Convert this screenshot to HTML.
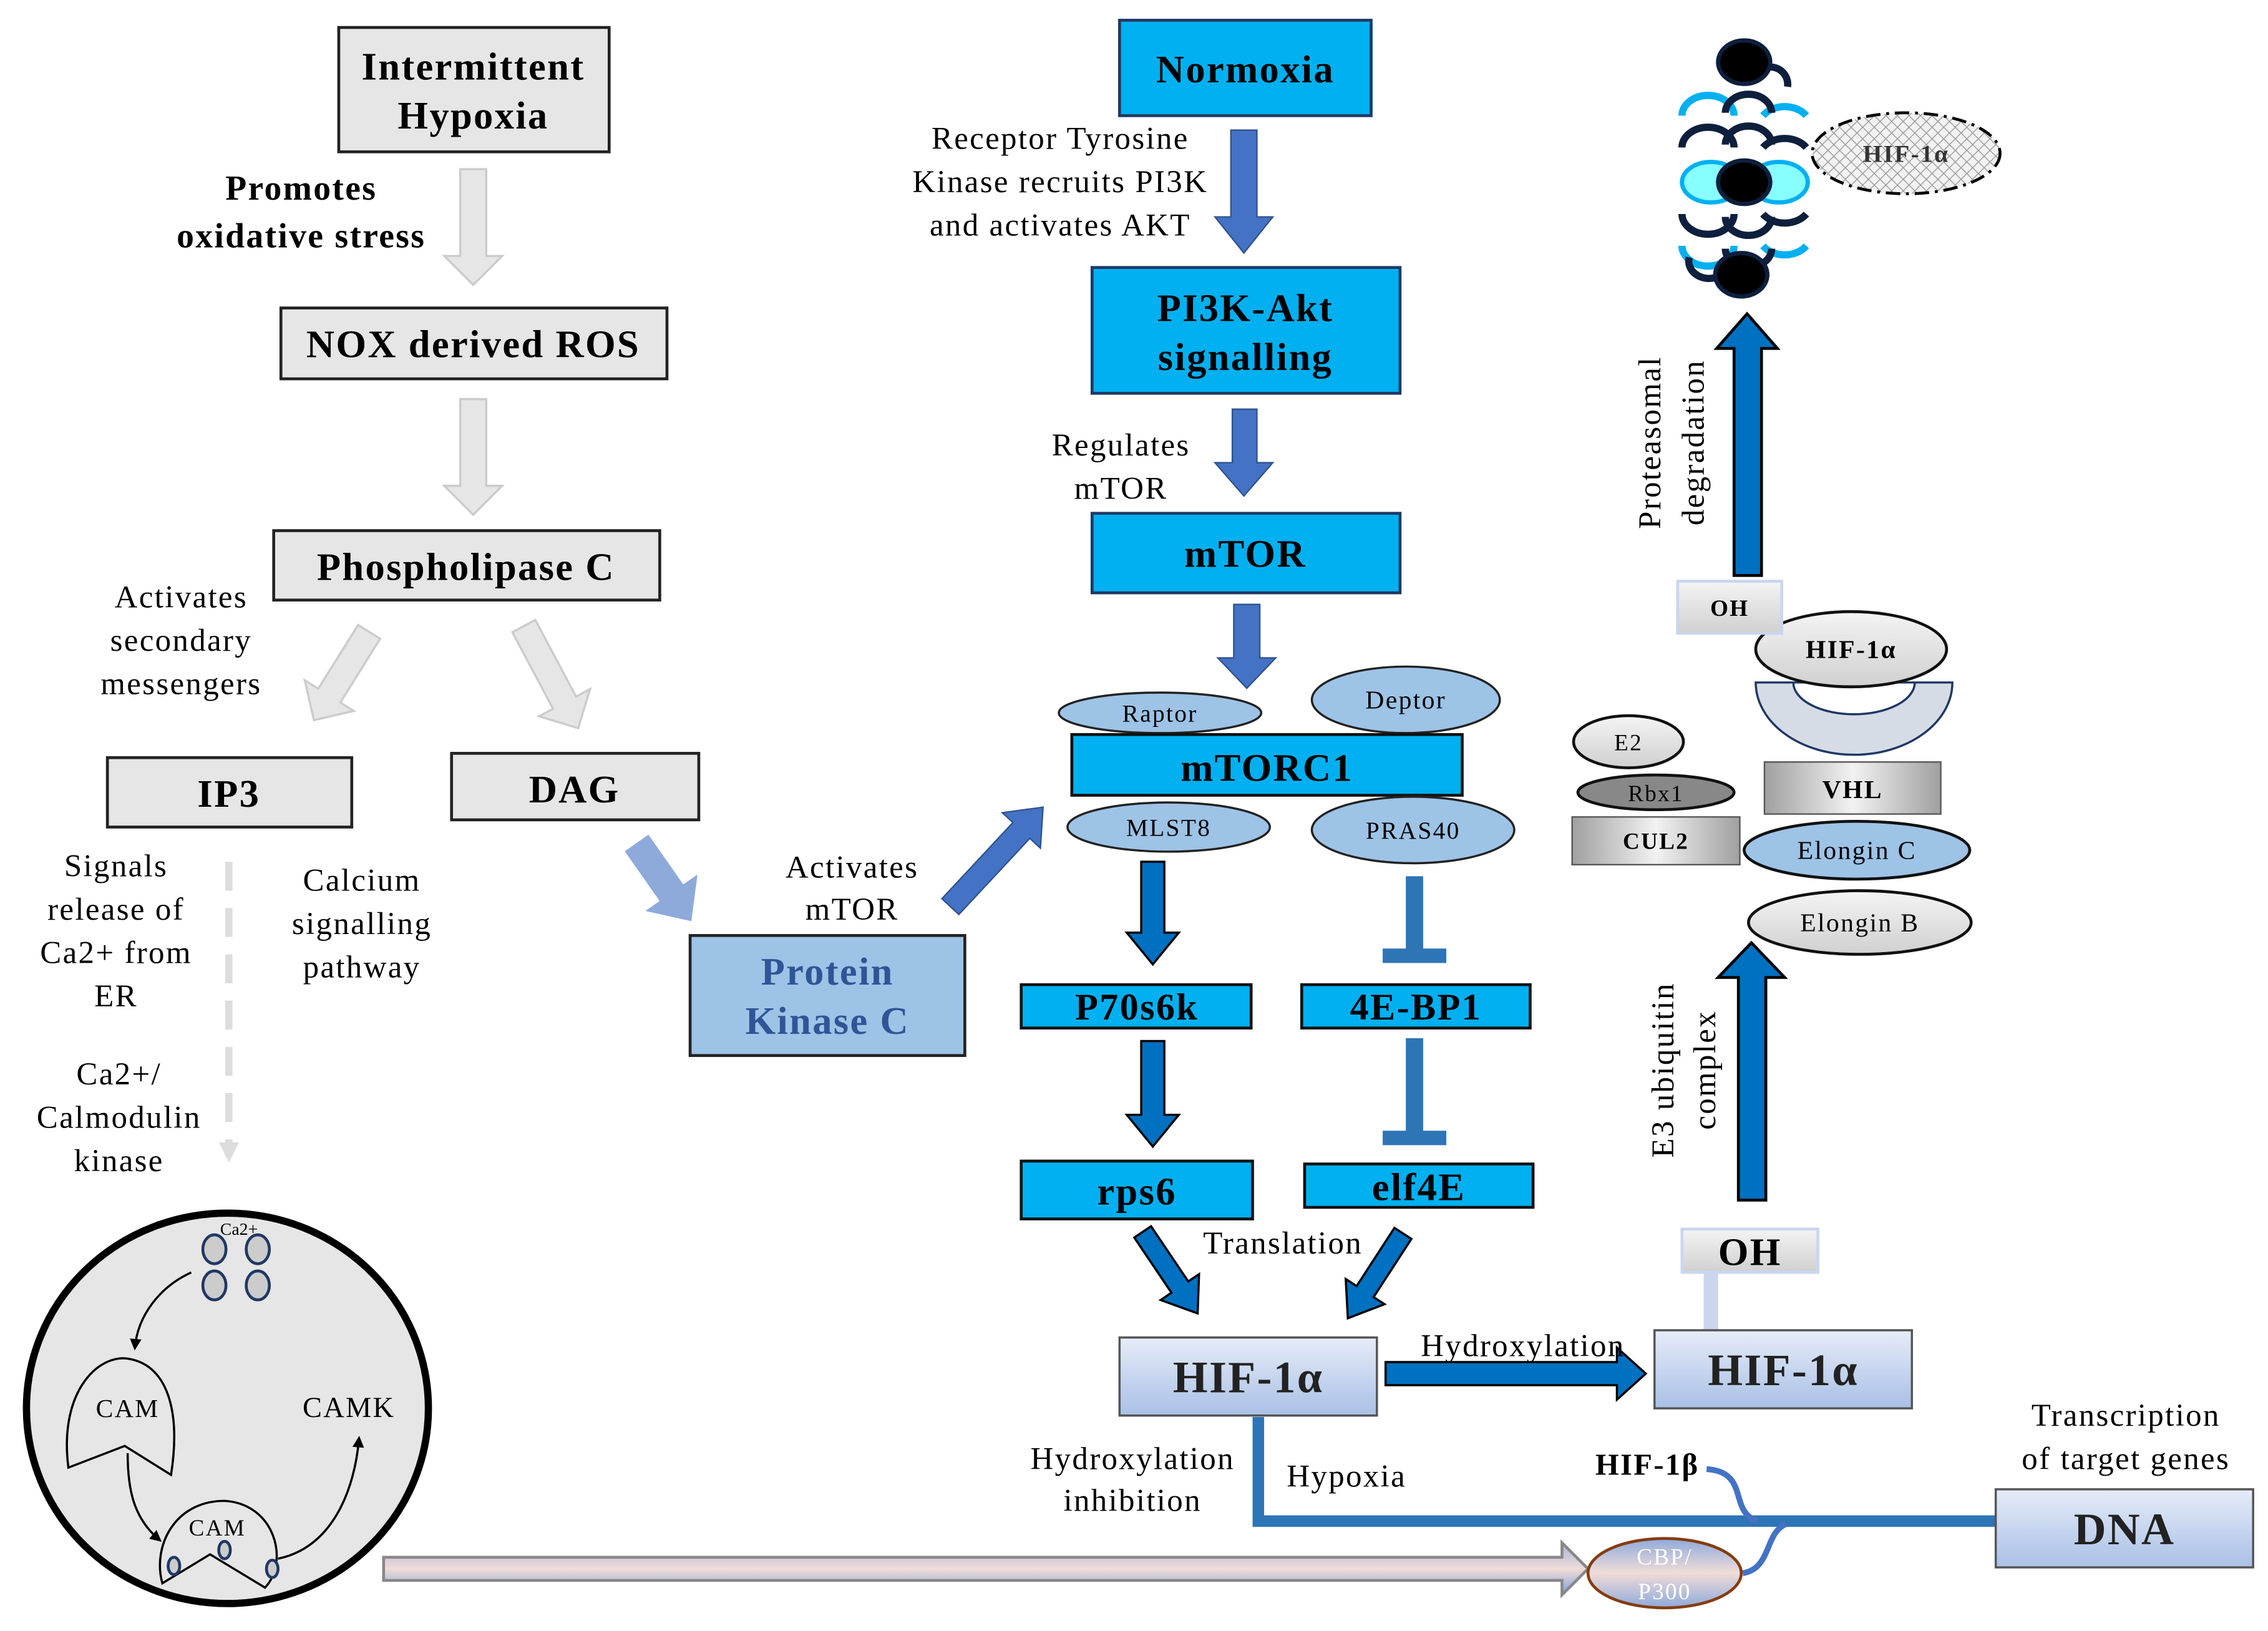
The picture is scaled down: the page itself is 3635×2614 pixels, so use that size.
<!DOCTYPE html>
<html><head><meta charset="utf-8"><style>
html,body{margin:0;padding:0;background:#fff;}
svg{display:block;}
text{font-family:"Liberation Serif",serif;letter-spacing:1px;}
.b{font-weight:bold;}
</style></head><body>
<svg width="3635" height="2614" viewBox="0 0 1568 1128" xmlns="http://www.w3.org/2000/svg">
<defs>
<linearGradient id="hg" x1="0" y1="0" x2="0" y2="1"><stop offset="0" stop-color="#e6ecf8"/><stop offset="1" stop-color="#a9c0e6"/></linearGradient>
<linearGradient id="gg" x1="0" y1="0" x2="0" y2="1"><stop offset="0" stop-color="#f4f4f4"/><stop offset="1" stop-color="#d0d0d0"/></linearGradient>
<linearGradient id="gh" x1="0" y1="0" x2="1" y2="0"><stop offset="0" stop-color="#a0a0a0"/><stop offset="0.5" stop-color="#f2f2f2"/><stop offset="1" stop-color="#a0a0a0"/></linearGradient>
<linearGradient id="ar" x1="0" y1="0" x2="0" y2="1"><stop offset="0" stop-color="#a8b4d8"/><stop offset="0.5" stop-color="#f0dcd8"/><stop offset="1" stop-color="#7fa0dc"/></linearGradient>
<linearGradient id="cb" x1="0" y1="0" x2="0" y2="1"><stop offset="0" stop-color="#8eaadb"/><stop offset="0.5" stop-color="#f0dcd8"/><stop offset="1" stop-color="#8eaadb"/></linearGradient>
<pattern id="hatch" width="8" height="8" patternUnits="userSpaceOnUse"><rect width="8" height="8" fill="#f2f2f2"/><path d="M0 8 L8 0 M0 0 L8 8" stroke="#999" stroke-width="0.6"/></pattern>
<marker id="mk" markerWidth="8" markerHeight="8" refX="6" refY="4" orient="auto" markerUnits="userSpaceOnUse"><path d="M0 0 L8 4 L0 8 Z" fill="#000"/></marker>
<marker id="mg" markerWidth="14" markerHeight="14" refX="10" refY="7" orient="auto" markerUnits="userSpaceOnUse"><path d="M0 0 L14 7 L0 14 Z" fill="#ddd"/></marker>
</defs>

<!-- Left column -->
<rect x="234" y="19" width="187" height="86" fill="#e6e6e6" stroke="#222" stroke-width="2"/>
<text x="327" y="55" font-size="27" class="b" text-anchor="middle">Intermittent</text>
<text x="327" y="89" font-size="27" class="b" text-anchor="middle">Hypoxia</text>
<text x="208" y="138" font-size="24" class="b" text-anchor="middle">Promotes</text>
<text x="208" y="171" font-size="24" class="b" text-anchor="middle">oxidative stress</text>
<path d="M318 117 H336 V177 H347 L327 197 L307 177 H318 Z" fill="#e6e6e6" stroke="#ccc" stroke-width="1.5"/>
<rect x="194" y="213" width="267" height="49" fill="#e6e6e6" stroke="#222" stroke-width="2"/>
<text x="327" y="247" font-size="27" class="b" text-anchor="middle">NOX derived ROS</text>
<path d="M318 276 H336 V336 H347 L327 356 L307 336 H318 Z" fill="#e6e6e6" stroke="#ccc" stroke-width="1.5"/>
<rect x="189" y="367" width="267" height="48" fill="#e6e6e6" stroke="#222" stroke-width="2"/>
<text x="322" y="401" font-size="27" class="b" text-anchor="middle">Phospholipase C</text>
<text x="125" y="420" font-size="22" text-anchor="middle">Activates</text>
<text x="125" y="450" font-size="22" text-anchor="middle">secondary</text>
<text x="125" y="480" font-size="22" text-anchor="middle">messengers</text>
<g transform="translate(255,437) rotate(122)"><path d="M0 -9 H52 V-20 L72 0 L52 20 V9 H0 Z" fill="#e6e6e6" stroke="#ccc" stroke-width="1.5"/></g>
<g transform="translate(362,433) rotate(62)"><path d="M0 -9 H60 V-20 L80 0 L60 20 V9 H0 Z" fill="#e6e6e6" stroke="#ccc" stroke-width="1.5"/></g>
<rect x="74" y="524" width="169" height="48" fill="#e6e6e6" stroke="#222" stroke-width="2"/>
<text x="158" y="558" font-size="27" class="b" text-anchor="middle">IP3</text>
<rect x="312" y="521" width="171" height="46" fill="#e6e6e6" stroke="#222" stroke-width="2"/>
<text x="397" y="555" font-size="27" class="b" text-anchor="middle">DAG</text>
<line x1="158" y1="596" x2="158" y2="800" stroke="#ddd" stroke-width="5" stroke-dasharray="20,12" marker-end="url(#mg)"/>
<text x="80" y="606" font-size="22" text-anchor="middle">Signals</text>
<text x="80" y="636" font-size="22" text-anchor="middle">release of</text>
<text x="80" y="666" font-size="22" text-anchor="middle">Ca2+ from</text>
<text x="80" y="696" font-size="22" text-anchor="middle">ER</text>
<text x="250" y="616" font-size="22" text-anchor="middle">Calcium</text>
<text x="250" y="646" font-size="22" text-anchor="middle">signalling</text>
<text x="250" y="676" font-size="22" text-anchor="middle">pathway</text>
<text x="82" y="750" font-size="22" text-anchor="middle">Ca2+/</text>
<text x="82" y="780" font-size="22" text-anchor="middle">Calmodulin</text>
<text x="82" y="810" font-size="22" text-anchor="middle">kinase</text>
<g transform="translate(440,583) rotate(55)"><path d="M0 -10 H42 V-22 L66 0 L42 22 V10 H0 Z" fill="#8eaadb"/></g>

<!-- Cell -->
<ellipse cx="157" cy="974" rx="139" ry="135" fill="#e6e6e6" stroke="#000" stroke-width="5"/>
<text x="165" y="854" font-size="12" text-anchor="middle" style="letter-spacing:0">Ca2+</text>
<g fill="#ccc" stroke="#1f3864" stroke-width="2">
<ellipse cx="148" cy="864" rx="8" ry="10"/><ellipse cx="178" cy="864" rx="8" ry="10"/>
<ellipse cx="148" cy="889" rx="8" ry="10"/><ellipse cx="178" cy="889" rx="8" ry="10"/>
</g>
<path d="M132 880 C110 890 95 910 93 932" fill="none" stroke="#000" stroke-width="1.5" marker-end="url(#mk)"/>
<path d="M86 1000 L47 1015 C40 960 70 935 90 940 C115 945 125 975 118 1020 Z" fill="#e6e6e6" stroke="#000" stroke-width="1.5"/>
<text x="88" y="980" font-size="18" text-anchor="middle">CAM</text>
<path d="M88 1005 C88 1030 92 1050 110 1065" fill="none" stroke="#000" stroke-width="1.5" marker-end="url(#mk)"/>
<path d="M112 1095 L145 1075 L183 1098 C200 1080 190 1040 155 1038 C120 1038 105 1070 112 1095 Z" fill="#e6e6e6" stroke="#000" stroke-width="1.5"/>
<text x="150" y="1062" font-size="16" text-anchor="middle">CAM</text>
<g fill="#ccc" stroke="#1f3864" stroke-width="2"><ellipse cx="120" cy="1083" rx="4" ry="6"/><ellipse cx="155" cy="1072" rx="4" ry="6"/><ellipse cx="188" cy="1085" rx="4" ry="6"/></g>
<path d="M192 1078 C230 1070 245 1030 248 995" fill="none" stroke="#000" stroke-width="1.5" marker-end="url(#mk)"/>
<text x="241" y="980" font-size="20" text-anchor="middle">CAMK</text>

<!-- Long gray arrow -->
<path d="M265 1077 H1080 V1067 L1098 1085 L1080 1103 V1093 H265 Z" fill="url(#ar)" stroke="#888" stroke-width="2"/>

<!-- Middle column -->
<rect x="774" y="14" width="174" height="66" fill="#00b0f0" stroke="#1f3864" stroke-width="2"/>
<text x="861" y="57" font-size="27" class="b" text-anchor="middle">Normoxia</text>
<text x="733" y="103" font-size="22" text-anchor="middle">Receptor Tyrosine</text>
<text x="733" y="133" font-size="22" text-anchor="middle">Kinase recruits PI3K</text>
<text x="733" y="163" font-size="22" text-anchor="middle">and activates AKT</text>
<path d="M851 90 H869 V150 H880 L860 175 L840 150 H851 Z" fill="#4472c4" stroke="#2f528f"/>
<rect x="755" y="185" width="213" height="87" fill="#00b0f0" stroke="#1f3864" stroke-width="2"/>
<text x="861" y="222" font-size="27" class="b" text-anchor="middle">PI3K-Akt</text>
<text x="861" y="256" font-size="27" class="b" text-anchor="middle">signalling</text>
<text x="775" y="315" font-size="22" text-anchor="middle">Regulates</text>
<text x="775" y="345" font-size="22" text-anchor="middle">mTOR</text>
<path d="M852 283 H869 V320 H880 L860 343 L840 320 H852 Z" fill="#4472c4" stroke="#2f528f"/>
<rect x="755" y="355" width="213" height="55" fill="#00b0f0" stroke="#1f3864" stroke-width="2"/>
<text x="861" y="392" font-size="27" class="b" text-anchor="middle">mTOR</text>
<path d="M853 418 H871 V455 H882 L862 476 L842 455 H853 Z" fill="#4472c4" stroke="#2f528f"/>
<text x="589" y="607" font-size="22" text-anchor="middle">Activates</text>
<text x="589" y="636" font-size="22" text-anchor="middle">mTOR</text>
<g transform="translate(657,627) rotate(-47)"><path d="M0 -8 H72 V-18 L94 0 L72 18 V8 H0 Z" fill="#4472c4" stroke="#2f528f"/></g>
<rect x="477" y="647" width="190" height="83" fill="#9dc3e6" stroke="#222" stroke-width="2"/>
<text x="572" y="681" font-size="27" class="b" fill="#2f5597" text-anchor="middle">Protein</text>
<text x="572" y="715" font-size="27" class="b" fill="#2f5597" text-anchor="middle">Kinase C</text>

<ellipse cx="802" cy="493" rx="70" ry="14" fill="#9dc3e6" stroke="#222" stroke-width="1.5"/>
<text x="802" y="499" font-size="17" text-anchor="middle">Raptor</text>
<ellipse cx="972" cy="484" rx="65" ry="23" fill="#9dc3e6" stroke="#222" stroke-width="1.5"/>
<text x="972" y="490" font-size="18" text-anchor="middle">Deptor</text>
<rect x="741" y="508" width="270" height="42" fill="#00b0f0" stroke="#111" stroke-width="2"/>
<text x="876" y="540" font-size="27" class="b" text-anchor="middle">mTORC1</text>
<ellipse cx="808" cy="572" rx="70" ry="17" fill="#9dc3e6" stroke="#222" stroke-width="1.5"/>
<text x="808" y="578" font-size="17" text-anchor="middle">MLST8</text>
<ellipse cx="977" cy="574" rx="70" ry="23" fill="#9dc3e6" stroke="#222" stroke-width="1.5"/>
<text x="977" y="580" font-size="17" text-anchor="middle">PRAS40</text>

<path d="M789 596 H805 V645 H815 L797 667 L779 645 H789 Z" fill="#0070c0" stroke="#000" stroke-width="1.5"/>
<rect x="972" y="606" width="12" height="52" fill="#2e75b6"/>
<rect x="956" y="656" width="44" height="10" fill="#2e75b6"/>
<rect x="706" y="681" width="159" height="30" fill="#00b0f0" stroke="#111" stroke-width="2"/>
<text x="786" y="705" font-size="26" class="b" text-anchor="middle">P70s6k</text>
<rect x="900" y="681" width="158" height="30" fill="#00b0f0" stroke="#111" stroke-width="2"/>
<text x="979" y="705" font-size="26" class="b" text-anchor="middle">4E-BP1</text>
<path d="M789 720 H805 V771 H815 L797 793 L779 771 H789 Z" fill="#0070c0" stroke="#000" stroke-width="1.5"/>
<rect x="972" y="718" width="12" height="66" fill="#2e75b6"/>
<rect x="956" y="782" width="44" height="10" fill="#2e75b6"/>
<rect x="706" y="803" width="160" height="40" fill="#00b0f0" stroke="#111" stroke-width="2"/>
<text x="786" y="833" font-size="27" class="b" text-anchor="middle">rps6</text>
<rect x="902" y="805" width="158" height="30" fill="#00b0f0" stroke="#111" stroke-width="2"/>
<text x="981" y="830" font-size="27" class="b" text-anchor="middle">elf4E</text>
<text x="887" y="867" font-size="22" text-anchor="middle">Translation</text>
<g transform="translate(790,852) rotate(56)"><path d="M0 -7 H46 V-16 L68 0 L46 16 V7 H0 Z" fill="#0070c0" stroke="#000" stroke-width="1.5"/></g>
<g transform="translate(970,853) rotate(123)"><path d="M0 -7 H48 V-16 L70 0 L48 16 V7 H0 Z" fill="#0070c0" stroke="#000" stroke-width="1.5"/></g>

<!-- DNA line -->
<path d="M870 980 V1052 H1385" fill="none" stroke="#2e75b6" stroke-width="8"/>
<rect x="774" y="925" width="178" height="54" fill="url(#hg)" stroke="#555" stroke-width="1.5"/>
<text x="863" y="963" font-size="31" class="b" fill="#222" text-anchor="middle">HIF-1α</text>
<path d="M958 942 H1118 V932 L1138 950 L1118 968 V958 H958 Z" fill="#0070c0" stroke="#000" stroke-width="1.5"/>
<text x="1053" y="938" font-size="22" text-anchor="middle">Hydroxylation</text>
<rect x="1178" y="880" width="10" height="40" fill="#c9d6ee"/>
<rect x="1144" y="920" width="178" height="54" fill="url(#hg)" stroke="#555" stroke-width="1.5"/>
<text x="1233" y="958" font-size="31" class="b" fill="#222" text-anchor="middle">HIF-1α</text>
<rect x="1163" y="850" width="94" height="30" fill="url(#gg)" stroke="#c9d6ee" stroke-width="2"/>
<text x="1210" y="875" font-size="27" class="b" text-anchor="middle">OH</text>
<text x="783" y="1016" font-size="22" text-anchor="middle">Hydroxylation</text>
<text x="783" y="1045" font-size="22" text-anchor="middle">inhibition</text>
<text x="931" y="1028" font-size="22" text-anchor="middle">Hypoxia</text>
<text x="1139" y="1020" font-size="21" class="b" text-anchor="middle">HIF-1β</text>
<path d="M1180 1016 C1210 1018 1195 1045 1215 1052 M1235 1054 C1220 1060 1225 1085 1205 1088" fill="none" stroke="#4472c4" stroke-width="4"/>
<ellipse cx="1151" cy="1088" rx="53" ry="24" fill="url(#cb)" stroke="#843c0c" stroke-width="2"/>
<text x="1151" y="1082" font-size="16" fill="#fff" text-anchor="middle" font-family="Liberation Sans, sans-serif">CBP/</text>
<text x="1151" y="1106" font-size="16" fill="#fff" text-anchor="middle" font-family="Liberation Sans, sans-serif">P300</text>
<rect x="1380" y="1030" width="178" height="54" fill="url(#hg)" stroke="#555" stroke-width="1.5"/>
<text x="1469" y="1068" font-size="31" class="b" fill="#222" text-anchor="middle">DNA</text>
<text x="1470" y="986" font-size="22" text-anchor="middle">Transcription</text>
<text x="1470" y="1016" font-size="22" text-anchor="middle">of target genes</text>

<!-- Right column: E3 complex -->
<path d="M1202 830 H1221 V676 H1234 L1211 652 L1188 676 H1202 Z" fill="#0070c0" stroke="#000" stroke-width="2"/>
<text transform="translate(1157,740) rotate(-90)" font-size="22" text-anchor="middle">E3 ubiquitin</text>
<text transform="translate(1186,740) rotate(-90)" font-size="22" text-anchor="middle">complex</text>
<ellipse cx="1286" cy="638" rx="77" ry="22" fill="url(#gg)" stroke="#111" stroke-width="2"/>
<text x="1286" y="644" font-size="18" text-anchor="middle">Elongin B</text>
<ellipse cx="1284" cy="588" rx="78" ry="20" fill="#9dc3e6" stroke="#111" stroke-width="2"/>
<text x="1284" y="594" font-size="18" text-anchor="middle">Elongin C</text>
<rect x="1220" y="527" width="122" height="36" fill="url(#gh)" stroke="#555"/>
<text x="1281" y="552" font-size="18" class="b" text-anchor="middle">VHL</text>
<rect x="1087" y="565" width="116" height="33" fill="url(#gh)" stroke="#555"/>
<text x="1145" y="587" font-size="16" class="b" text-anchor="middle">CUL2</text>
<ellipse cx="1145" cy="548" rx="54" ry="12" fill="#888" stroke="#111" stroke-width="2"/>
<text x="1145" y="554" font-size="16" text-anchor="middle">Rbx1</text>
<ellipse cx="1126" cy="513" rx="38" ry="18" fill="url(#gg)" stroke="#111" stroke-width="2"/>
<text x="1126" y="519" font-size="16" text-anchor="middle">E2</text>
<path d="M1214 472 H1350 A68 50 0 0 1 1214 472 Z M1240 472 A42 22 0 0 0 1324 472 Z" fill="#d6dce5" stroke="#1f3864" stroke-width="1.5" fill-rule="evenodd"/>
<ellipse cx="1280" cy="449" rx="66" ry="26" fill="url(#gg)" stroke="#111" stroke-width="2"/>
<text x="1280" y="455" font-size="18" class="b" text-anchor="middle">HIF-1α</text>
<rect x="1160" y="402" width="72" height="36" fill="url(#gg)" stroke="#c9d6ee" stroke-width="2"/>
<text x="1196" y="426" font-size="16" class="b" text-anchor="middle">OH</text>
<path d="M1199 398 H1218 V241 H1229 L1208 217 L1187 241 H1199 Z" fill="#0070c0" stroke="#000" stroke-width="2"/>
<text transform="translate(1148,306) rotate(-90)" font-size="22" text-anchor="middle">Proteasomal</text>
<text transform="translate(1178,306) rotate(-90)" font-size="22" text-anchor="middle">degradation</text>

<!-- Proteasome -->
<g fill="none" stroke-width="5">
<path d="M1163 80 a18 14 0 0 1 36 0 M1219 80 a18 14 0 0 1 30 0" stroke="#00b0f0"/>
<path d="M1193 78 a15 12 0 0 1 32 0" stroke="#0d1f3c"/>
<path d="M1163 102 a18 14 0 0 1 36 0 M1193 100 a15 12 0 0 1 32 0 M1219 102 a18 14 0 0 1 30 0" stroke="#0d1f3c"/>
<path d="M1163 148 a18 14 0 0 0 36 0 M1193 150 a15 12 0 0 0 32 0 M1219 148 a18 14 0 0 0 30 0" stroke="#0d1f3c"/>
<path d="M1163 170 a18 14 0 0 0 36 0 M1219 170 a18 14 0 0 0 30 0" stroke="#00b0f0"/>
<path d="M1193 172 a15 12 0 0 0 32 0" stroke="#0d1f3c"/>
<path d="M1218 48 a12 12 0 0 1 18 12" stroke="#0d1f3c"/>
<path d="M1186 192 a14 12 0 0 1 -18 -14" stroke="#0d1f3c"/>
</g>
<ellipse cx="1183" cy="126" rx="20" ry="14" fill="#8ff" stroke="#00b0f0" stroke-width="3"/>
<ellipse cx="1230" cy="126" rx="20" ry="14" fill="#8ff" stroke="#00b0f0" stroke-width="3"/>
<ellipse cx="1206" cy="126" rx="18" ry="15" fill="#000" stroke="#0d1f3c" stroke-width="3"/>
<ellipse cx="1206" cy="43" rx="18" ry="15" fill="#000" stroke="#0d1f3c" stroke-width="3"/>
<ellipse cx="1204" cy="190" rx="18" ry="15" fill="#000" stroke="#0d1f3c" stroke-width="3"/>
<ellipse cx="1318" cy="106" rx="65" ry="28" fill="url(#hatch)" stroke="#000" stroke-width="2" stroke-dasharray="10,4,2,4"/>
<text x="1318" y="112" font-size="17" class="b" fill="#333" text-anchor="middle">HIF-1α</text>
</svg>
</body></html>
